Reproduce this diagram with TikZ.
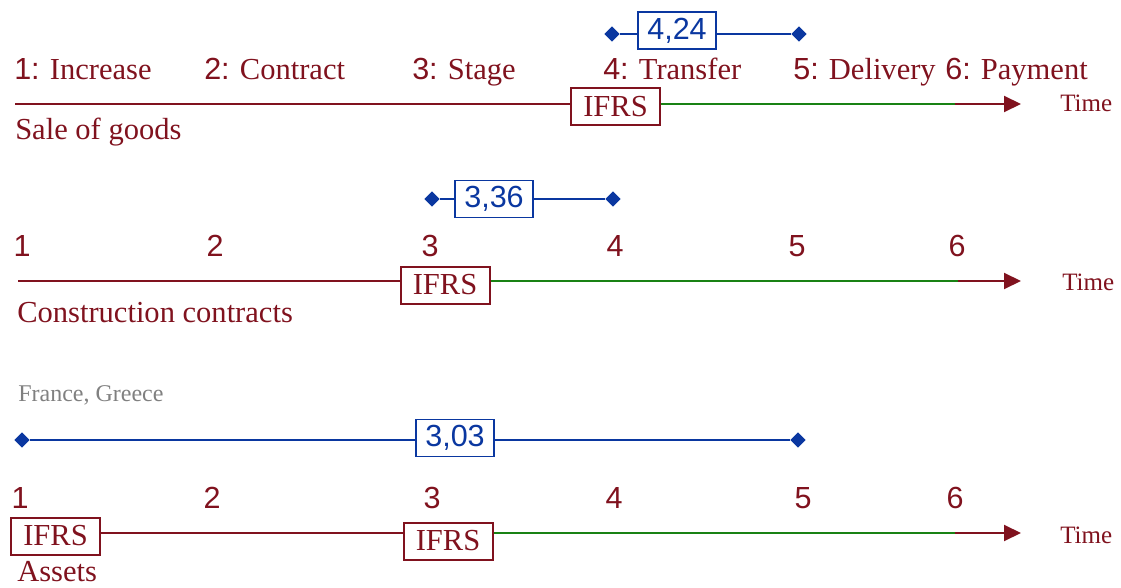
\documentclass[tikz,border=0pt]{standalone}
\usepackage{fontspec}
\setmainfont{Liberation Serif}
\newfontfamily\sansf{Liberation Sans}
\usetikzlibrary{arrows.meta,shapes.geometric}
\definecolor{dred}{RGB}{128,18,30}
\definecolor{dgreen}{RGB}{25,130,20}
\definecolor{dblue}{RGB}{10,55,160}
\definecolor{gtxt}{RGB}{128,128,128}
\newcommand\lbf{\fontsize{22.9}{26}\selectfont}
\begin{document}
\begin{tikzpicture}[x=0.75pt,y=-0.75pt,
 lab/.style={text=dred,font=\lbf,inner sep=0,anchor=base west},
 num/.style={text=dred,font=\sansf\lbf,inner sep=0,anchor=base},
 ifrs/.style={draw=dred,line width=1.5pt,text=dred,font=\lbf,minimum width=66.75pt,minimum height=27.75pt,inner sep=0,fill=white},
 val/.style={draw=dblue,line width=1.3pt,text=dblue,font=\sansf\lbf,minimum width=59pt,minimum height=27.75pt,inner sep=0},
 dia/.style={diamond,fill=dblue,inner sep=0,minimum size=11.5pt},
 tl/.style={dred,line width=1.5pt},
 gl/.style={dgreen,line width=1.5pt},
 bl/.style={dblue,line width=1.2pt},
 arr/.style={tl,-{Triangle[length=12.75pt,width=12pt]}},
 timel/.style={text=dred,font=\fontsize{18.75}{22}\selectfont,inner sep=0,anchor=base west},
 note/.style={text=gtxt,font=\fontsize{18}{22}\selectfont,inner sep=0,anchor=base west}]
\path[use as bounding box] (0,0) rectangle (1121,588);

% ---------- Row 1: Sale of goods ----------
\node[dia] (d1a) at (612,34) {};
\node[dia] (d1b) at (799,34) {};
\node[val] (v1) at (677,30.5) {4,24};
\draw[bl] (d1a) -- (d1a -| v1.west);
\draw[bl] (d1b -| v1.east) -- (d1b);

\node[lab] (l11) at (14,80) {{\sansf 1:} Increase};
\node[lab] (l12) at (204,80) {{\sansf 2:} Contract};
\node[lab] (l13) at (412,80) {{\sansf 3:} Stage};
\node[lab] (l14) at (603,80) {{\sansf 4:} Transfer};
\node[lab] (l15) at (793,80) {{\sansf 5:} Delivery};
\node[lab] (l16) at (945,80) {{\sansf 6:} Payment};

\coordinate (s1) at (15,104);
\coordinate (g1) at (955,104);
\coordinate (t1) at (1021,104);
\node[ifrs] (b1) at (615.5,106.5) {IFRS};
\draw[tl] (s1) -- (s1 -| b1.west);
\draw[gl] (b1.east |- g1) -- (g1);
\draw[arr] (g1) -- (t1);
\node[timel] (time1) at (1060,112) {Time};
\node[lab] (sog) at (15,140) {Sale of goods};

% ---------- Row 2: Construction contracts ----------
\node[dia] (d2a) at (432,199) {};
\node[dia] (d2b) at (613,199) {};
\node[val] (v2) at (494,199) {3,36};
\draw[bl] (d2a) -- (d2a -| v2.west);
\draw[bl] (d2b -| v2.east) -- (d2b);

\node[num] (n21) at (22,256) {1};
\node[num] (n22) at (215,256) {2};
\node[num] (n23) at (430,256) {3};
\node[num] (n24) at (615,256) {4};
\node[num] (n25) at (797,256) {5};
\node[num] (n26) at (957,256) {6};

\coordinate (s2) at (18,281);
\coordinate (g2) at (958,281);
\coordinate (t2) at (1021,281);
\node[ifrs] (b2) at (445,285) {IFRS};
\draw[tl] (s2) -- (s2 -| b2.west);
\draw[gl] (b2.east |- g2) -- (g2);
\draw[arr] (g2) -- (t2);
\node[timel] (time2) at (1062,290) {Time};
\node[lab] (cc) at (17,322) {Construction contracts};

% ---------- Row 3: Assets ----------
\node[note] (fg) at (18,401) {France, Greece};
\node[dia] (d3a) at (22,440) {};
\node[dia] (d3b) at (798,440) {};
\node[val] (v3) at (455,438) {3,03};
\draw[bl] (d3a) -- (d3a -| v3.west);
\draw[bl] (d3b -| v3.east) -- (d3b);

\node[num] (n31) at (20,508) {1};
\node[num] (n32) at (212,508) {2};
\node[num] (n33) at (432,508) {3};
\node[num] (n34) at (614,508) {4};
\node[num] (n35) at (803,508) {5};
\node[num] (n36) at (955,508) {6};

\node[ifrs] (b3a) at (55.5,536) {IFRS};
\node[ifrs] (b3b) at (448,541) {IFRS};
\coordinate (g3) at (955,533);
\coordinate (t3) at (1021,533);
\draw[tl] (b3a.east |- g3) -- (b3b.west |- g3);
\draw[gl] (b3b.east |- g3) -- (g3);
\draw[arr] (g3) -- (t3);
\node[timel] (time3) at (1060,543) {Time};
\node[lab] (as) at (17,581) {Assets};
\end{tikzpicture}
\end{document}
